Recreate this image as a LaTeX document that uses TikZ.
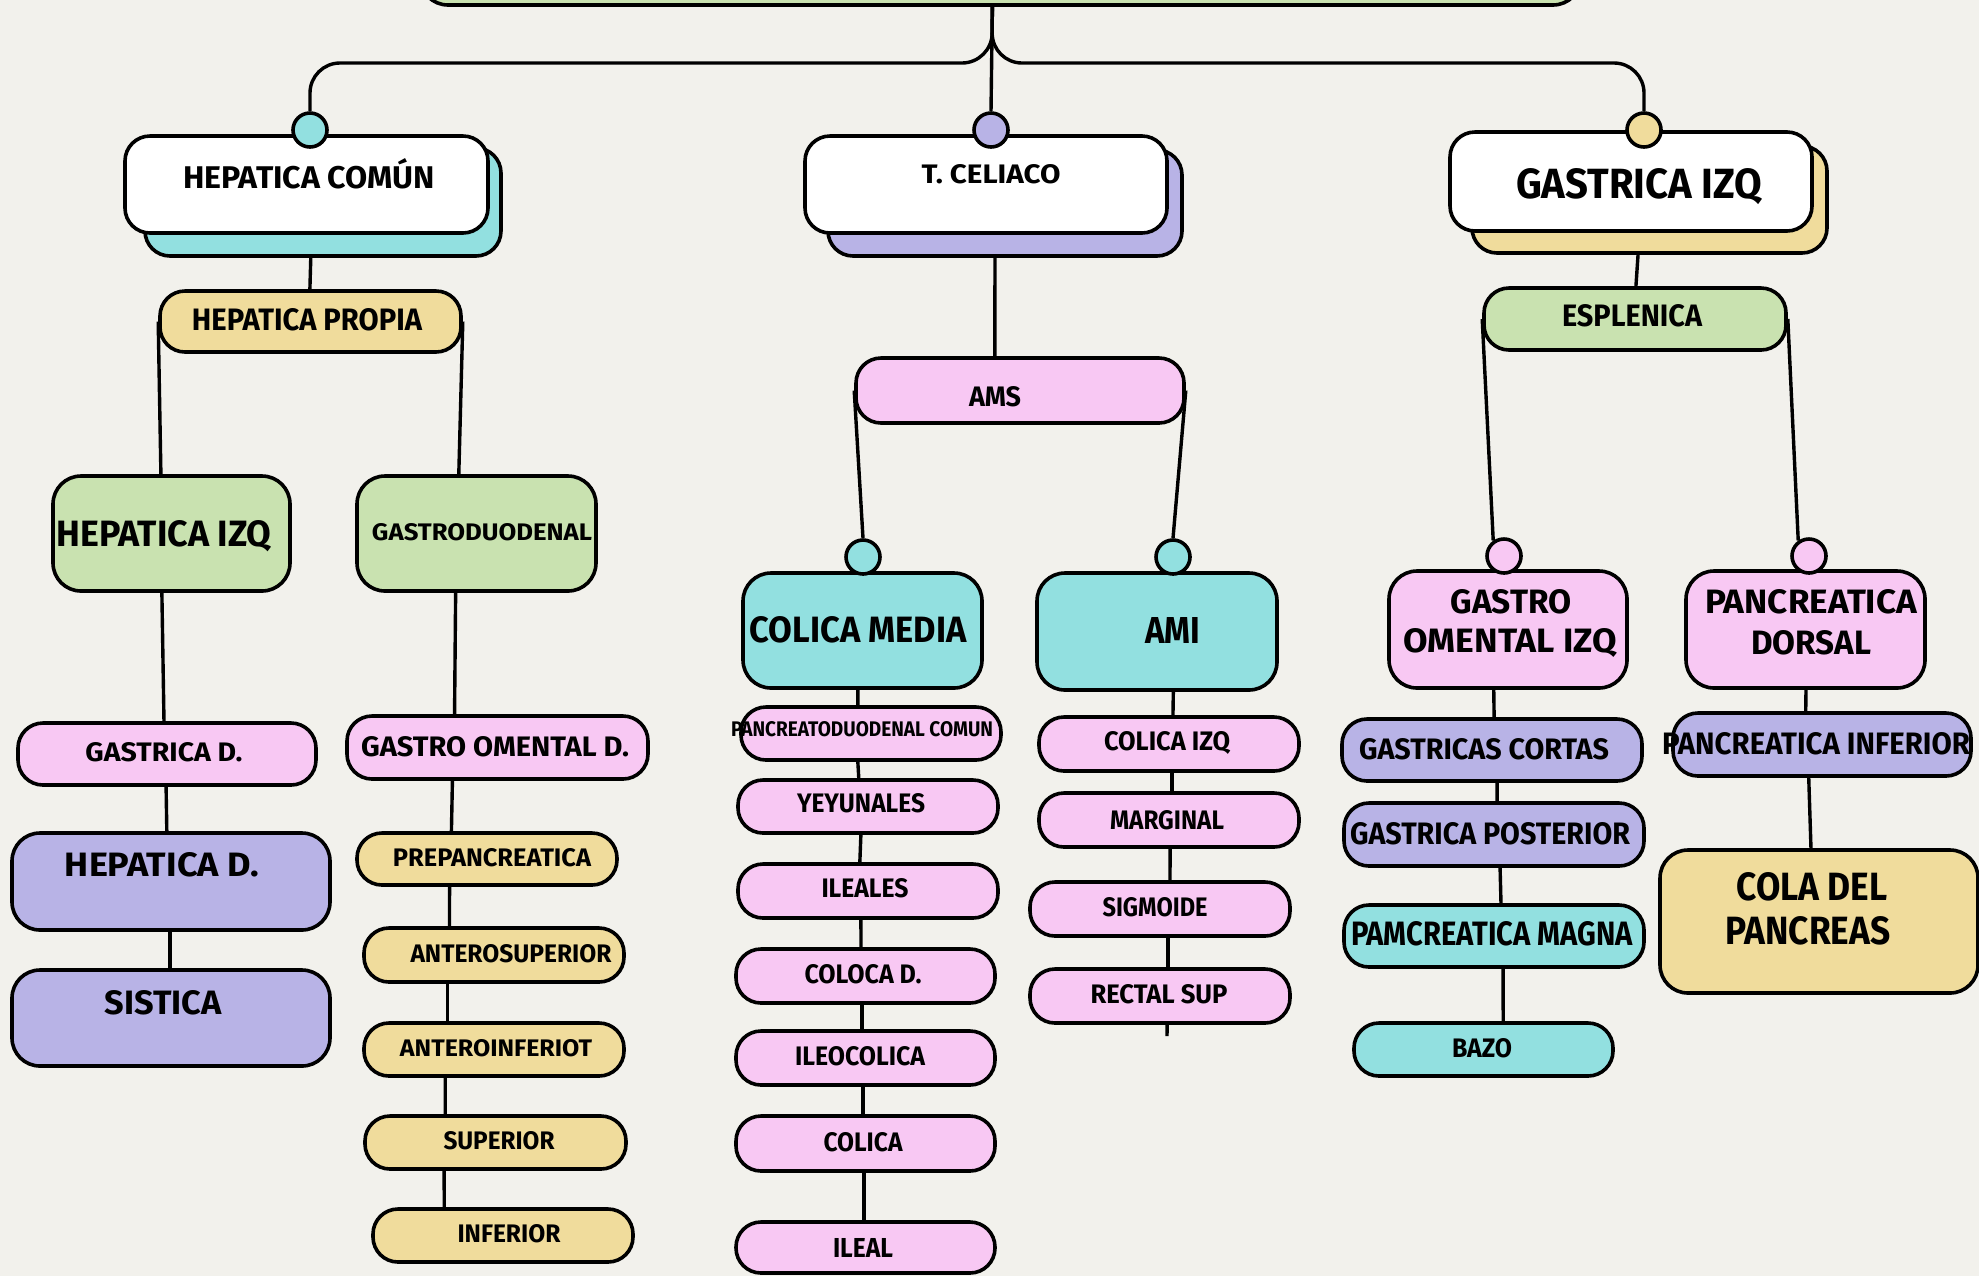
\documentclass[tikz,border=0pt]{standalone}
\usepackage{fontspec}
\setmainfont{Fira Sans}
\usepackage{graphicx}
\usetikzlibrary{fit,calc}
\definecolor{paper}{HTML}{F2F1EC}
\definecolor{teal}{HTML}{92E0E0}
\definecolor{lav}{HTML}{B8B3E6}
\definecolor{yel}{HTML}{F0DC9C}
\definecolor{grn}{HTML}{C9E2B0}
\definecolor{pnk}{HTML}{F8C8F3}
\newlength\pxu \setlength\pxu{0.5pt}
\newcommand{\tx}[3]{\resizebox{#1\pxu}{#2\pxu}{\bfseries #3}}
\newcommand{\vlink}[4]{\draw[conn] ($(#1.south west)!#2!(#1.south east)$) -- ($(#3.north west)!#4!(#3.north east)$);}
\begin{document}
\begin{tikzpicture}[x=0.5pt,y=-0.5pt,
  box/.style={draw=black, line width=1.8pt, rounded corners=14pt, inner sep=0pt},
  pill/.style={box, rounded corners=12.5pt},
  wbox/.style={box, fill=white, rounded corners=12.5pt},
  dot/.style={circle, draw=black, line width=1.8pt, minimum size=17pt, inner sep=0pt},
  conn/.style={draw=black, line width=1.7pt},
  lbl/.style={inner sep=0pt}]
\fill[paper] (0,0) rectangle (1979,1276);
\useasboundingbox (0,0) rectangle (1979,1276);
\begin{scope}
\clip (0,0) rectangle (1979,1276);
\node[box, fill=grn, fit={(420,-80) (1581,5)}] (root) {};
\end{scope}

% level 1
\node[wbox, fill=teal, fit={(145,148) (501,256)}] (hcs) {};
\node[wbox, fit={(125,136) (488,233)}] (hc) {};
\node[dot, fill=teal] (hcc) at (310,130) {};
\node[lbl] (hct) at (309,174) {\tx{252}{30}{HEPATICA COMÚN}};

\node[wbox, fill=lav, fit={(828,150) (1182,256)}] (cels) {};
\node[wbox, fit={(805,136) (1167,233)}] (cel) {};
\node[dot, fill=lav] (celc) at (991,130) {};
\node[lbl] (celt) at (991,174) {\tx{139}{19}{T. CELIACO}};

\node[wbox, fill=yel, fit={(1472,146) (1827,253)}] (gis) {};
\node[wbox, fit={(1450,132) (1812,231)}] (gi) {};
\node[dot, fill=yel] (gic) at (1644,130) {};
\node[lbl] (git) at (1639,187) {\tx{246}{30}{GASTRICA IZQ}};

% top connectors
\coordinate (top) at ($(root.south west)!0.493!(root.south east)$);
\coordinate (bus) at (992,63);
\draw[conn, rounded corners=15pt] (top) -- (bus) -| (hcc.north);
\draw[conn, rounded corners=15pt] (top) -- (bus) -| (gic.north);
\draw[conn] (top) -- (celc.north);

% level 2
\node[pill, fill=yel, fit={(160,291) (461,352)}] (hp) {};
\node[lbl] (hpt) at (307,320) {\tx{230}{22}{HEPATICA PROPIA}};
\node[pill, fill=pnk, fit={(856,358) (1184,423)}] (ams) {};
\node[lbl] (amst) at (995,397) {\tx{52}{20}{AMS}};
\node[pill, fill=grn, fit={(1484,288) (1786,350)}] (esp) {};
\node[lbl] (espt) at (1632,316) {\tx{140}{22}{ESPLENICA}};
\vlink{hcs}{0.466}{hp}{0.498}
\vlink{cels}{0.472}{ams}{0.424}
\vlink{gis}{0.468}{esp}{0.503}

% level 3 left
\node[box, fill=grn, fit={(53,476) (290,591)}] (hizq) {};
\node[lbl] (hizqt) at (164,536) {\tx{215}{26}{HEPATICA IZQ}};
\node[box, fill=grn, fit={(357,476) (596,591)}] (gdd) {};
\node[lbl] (gddt) at (482,532) {\tx{220}{17}{GASTRODUODENAL}};
\draw[conn] (hp.west) -- ($(hizq.north west)!0.456!(hizq.north east)$);
\draw[conn] (hp.east) -- ($(gdd.north west)!0.427!(gdd.north east)$);

% level 3 middle
\node[box, fill=teal, fit={(743,573) (982,688)}] (cm) {};
\node[dot, fill=teal] (cmc) at (863,557) {};
\node[lbl] (cmt) at (858,630) {\tx{217}{26}{COLICA MEDIA}};
\node[box, fill=teal, fit={(1037,573) (1277,690)}] (ami) {};
\node[dot, fill=teal] (amic) at (1173,557) {};
\node[lbl] (amit) at (1173,630) {\tx{55}{26}{AMI}};
\draw[conn] (ams.west) -- (cmc.north);
\draw[conn] (ams.east) -- (amic.north);

% level 3 right
\node[box, fill=pnk, fit={(1389,571) (1627,688)}] (goi) {};
\node[dot, fill=pnk] (goic) at (1504,556) {};
\node[lbl] (goit1) at (1511,602) {\tx{121}{24}{GASTRO}};
\node[lbl] (goit2) at (1510,643) {\tx{213}{24}{OMENTAL IZQ}};
\node[box, fill=pnk, fit={(1686,571) (1925,688)}] (pd) {};
\node[dot, fill=pnk] (pdc) at (1809,556) {};
\node[lbl] (pdt1) at (1811,602) {\tx{212}{24}{PANCREATICA}};
\node[lbl] (pdt2) at (1811,643) {\tx{120}{24}{DORSAL}};
\draw[conn] (esp.west) -- (goic.125);
\draw[conn] (esp.east) -- (pdc.125);

% under HEPATICA IZQ
\node[pill, fill=pnk, fit={(18,723) (316,785)}] (gad) {};
\node[lbl] (gadt) at (164,752) {\tx{157}{19}{GASTRICA D.}};
\node[box, fill=lav, fit={(12,833) (330,930)}] (hd) {};
\node[lbl] (hdt) at (162,865) {\tx{194}{24}{HEPATICA D.}};
\node[box, fill=lav, fit={(12,970) (330,1066)}] (sis) {};
\node[lbl] (sist) at (163,1003) {\tx{117}{24}{SISTICA}};
\vlink{hizq}{0.46}{gad}{0.49}
\vlink{gad}{0.497}{hd}{0.487}
\vlink{hd}{0.497}{sis}{0.497}

% under GASTRODUODENAL
\node[pill, fill=pnk, fit={(347,716) (648,779)}] (gomd) {};
\node[lbl] (gomdt) at (495,747) {\tx{268}{20}{GASTRO OMENTAL D.}};
\node[pill, fill=yel, fit={(357,833) (617,885)}] (prep) {};
\node[lbl] (prept) at (492,858) {\tx{198}{18}{PREPANCREATICA}};
\node[pill, fill=yel, fit={(364,928) (624,982)}] (ants) {};
\node[lbl] (antst) at (511,954) {\tx{201}{18}{ANTEROSUPERIOR}};
\node[pill, fill=yel, fit={(364,1023) (624,1076)}] (anti) {};
\node[lbl] (antit) at (496,1048) {\tx{192}{17}{ANTEROINFERIOT}};
\node[pill, fill=yel, fit={(365,1116) (626,1169)}] (sup) {};
\node[lbl] (supt) at (499,1141) {\tx{111}{18}{SUPERIOR}};
\node[pill, fill=yel, fit={(373,1209) (633,1262)}] (inf) {};
\node[lbl] (inft) at (509,1234) {\tx{103}{18}{INFERIOR}};
\vlink{gdd}{0.414}{gomd}{0.359}
\vlink{gomd}{0.352}{prep}{0.365}
\vlink{prep}{0.358}{ants}{0.331}
\vlink{ants}{0.323}{anti}{0.323}
\vlink{anti}{0.315}{sup}{0.31}
\vlink{sup}{0.306}{inf}{0.277}

% under COLICA MEDIA
\node[pill, fill=pnk, fit={(741,707) (1001,760)}] (pdcm) {};
\node[lbl] (pdcmt) at (862,729) {\tx{262}{15}{PANCREATODUODENAL COMUN}};
\node[pill, fill=pnk, fit={(738,780) (998,833)}] (yey) {};
\node[lbl] (yeyt) at (861,803) {\tx{128}{19}{YEYUNALES}};
\node[pill, fill=pnk, fit={(738,864) (998,918)}] (ile) {};
\node[lbl] (ilet) at (865,888) {\tx{87}{19}{ILEALES}};
\node[pill, fill=pnk, fit={(736,949) (995,1003)}] (cold) {};
\node[lbl] (coldt) at (863,974) {\tx{117}{19}{COLOCA D.}};
\node[pill, fill=pnk, fit={(736,1031) (995,1085)}] (ileo) {};
\node[lbl] (ileot) at (860,1056) {\tx{130}{19}{ILEOCOLICA}};
\node[pill, fill=pnk, fit={(736,1116) (995,1171)}] (col) {};
\node[lbl] (colt) at (863,1142) {\tx{79}{19}{COLICA}};
\node[pill, fill=pnk, fit={(736,1222) (995,1273)}] (ileal) {};
\node[lbl] (ilealt) at (863,1248) {\tx{60}{19}{ILEAL}};
\vlink{cm}{0.481}{pdcm}{0.45}
\vlink{pdcm}{0.45}{yey}{0.465}
\vlink{yey}{0.473}{ile}{0.469}
\vlink{ile}{0.473}{cold}{0.483}
\vlink{cold}{0.486}{ileo}{0.486}
\vlink{ileo}{0.49}{col}{0.49}
\vlink{col}{0.494}{ileal}{0.494}

% under AMI
\node[pill, fill=pnk, fit={(1039,717) (1299,771)}] (ci) {};
\node[lbl] (cit) at (1167,743) {\tx{126}{19}{COLICA IZQ}};
\node[pill, fill=pnk, fit={(1039,793) (1299,847)}] (mar) {};
\node[lbl] (mart) at (1167,820) {\tx{114}{19}{MARGINAL}};
\node[pill, fill=pnk, fit={(1030,882) (1290,936)}] (sig) {};
\node[lbl] (sigt) at (1155,907) {\tx{105}{19}{SIGMOIDE}};
\node[pill, fill=pnk, fit={(1030,969) (1290,1023)}] (rs) {};
\node[lbl] (rst) at (1159,994) {\tx{137}{19}{RECTAL SUP}};
\vlink{ami}{0.567}{ci}{0.515}
\vlink{ci}{0.512}{mar}{0.512}
\vlink{mar}{0.504}{sig}{0.538}
\vlink{sig}{0.531}{rs}{0.531}
\coordinate (rsend) at (1167,1036);
\draw[conn] ($(rs.south west)!0.527!(rs.south east)$) -- (rsend);

% under GASTRO OMENTAL IZQ
\node[pill, fill=lav, fit={(1342,719) (1642,781)}] (gc) {};
\node[lbl] (gct) at (1484,749) {\tx{250}{21}{GASTRICAS CORTAS}};
\node[pill, fill=lav, fit={(1344,803) (1644,866)}] (gp) {};
\node[lbl] (gpt) at (1490,834) {\tx{280}{22}{GASTRICA POSTERIOR}};
\node[pill, fill=teal, fit={(1344,905) (1644,967)}] (pm) {};
\node[lbl] (pmt) at (1492,934) {\tx{282}{24}{PAMCREATICA MAGNA}};
\node[pill, fill=teal, fit={(1354,1023) (1613,1076)}] (bazo) {};
\node[lbl] (bazot) at (1482,1048) {\tx{60}{19}{BAZO}};
\vlink{goi}{0.441}{gc}{0.507}
\vlink{gc}{0.517}{gp}{0.51}
\vlink{gp}{0.52}{pm}{0.523}
\vlink{pm}{0.53}{bazo}{0.575}

% under PANCREATICA DORSAL
\node[pill, fill=lav, fit={(1673,713) (1971,776)}] (pi) {};
\node[lbl] (pit) at (1816,744) {\tx{308}{22}{PANCREATICA INFERIOR}};
\node[box, fill=yel, fit={(1660,850) (1978,993)}] (cola) {};
\node[lbl] (colat1) at (1812,887) {\tx{151}{28}{COLA DEL}};
\node[lbl] (colat2) at (1808,931) {\tx{165}{28}{PANCREAS}};
\vlink{pd}{0.502}{pi}{0.446}
\vlink{pi}{0.456}{cola}{0.475}
\end{tikzpicture}
\end{document}
